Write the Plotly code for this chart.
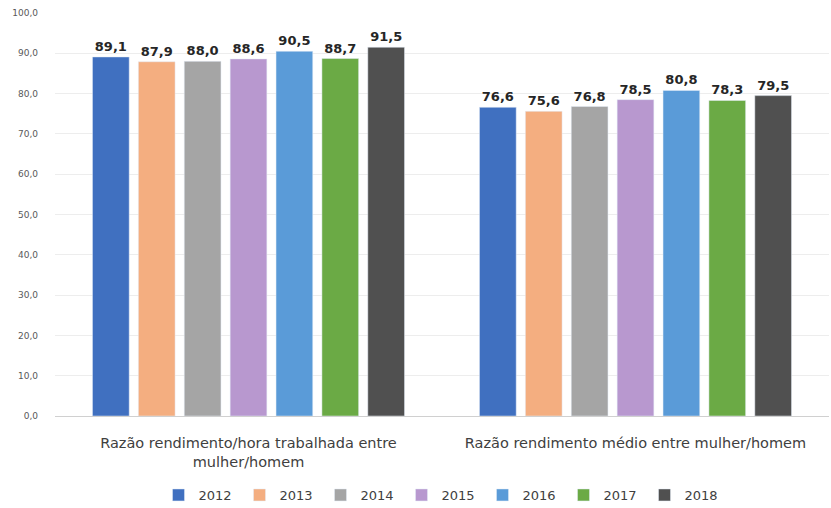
import plotly.graph_objects as go

categories = ["Razão rendimento/hora trabalhada entre<br>mulher/homem",
              "Razão rendimento médio entre mulher/homem"]
years = ["2012", "2013", "2014", "2015", "2016", "2017", "2018"]
values = {
    "2012": [89.1, 76.6],
    "2013": [87.9, 75.6],
    "2014": [88.0, 76.8],
    "2015": [88.6, 78.5],
    "2016": [90.5, 80.8],
    "2017": [88.7, 78.3],
    "2018": [91.5, 79.5],
}
colors = ["#4070C0", "#F4AE80", "#A5A5A5", "#B898CF", "#5A9BD8", "#6BAA45", "#505050"]

fig = go.Figure()
for y, c in zip(years, colors):
    fig.add_trace(go.Bar(
        name=y, x=categories, y=values[y], marker_color=c,
        text=values[y], texttemplate="<b>%{y:.1f}</b>", textposition="outside",
        textfont=dict(family="DejaVu Sans", size=13, color="#262626"),
        cliponaxis=False, textangle=0,
    ))

fig.update_layout(
    width=831, height=508,
    separators=",.",
    margin=dict(l=55, r=2, t=13, b=92, autoexpand=False),
    plot_bgcolor="white", paper_bgcolor="white",
    barmode="group", bargap=0.17, bargroupgap=0.2,
    font=dict(family="DejaVu Sans", color="#404040"),
    legend=dict(orientation="h", x=0.5, xanchor="center", y=-0.196, yanchor="middle",
                font=dict(size=13, color="#404040"), traceorder="normal",
                itemwidth=30, entrywidth=36),
)
fig.update_yaxes(range=[0, 100], dtick=10, tickformat=".1f",
                 gridcolor="#EDEDED", showline=False, zeroline=False,
                 ticklabelstandoff=16,
                 tickfont=dict(size=9, color="#595959"))
fig.update_xaxes(showline=True, linecolor="#D0D0D0", ticklabelstandoff=14,
                 tickfont=dict(size=14.5, color="#404040"))
fig.write_html("out.html")
